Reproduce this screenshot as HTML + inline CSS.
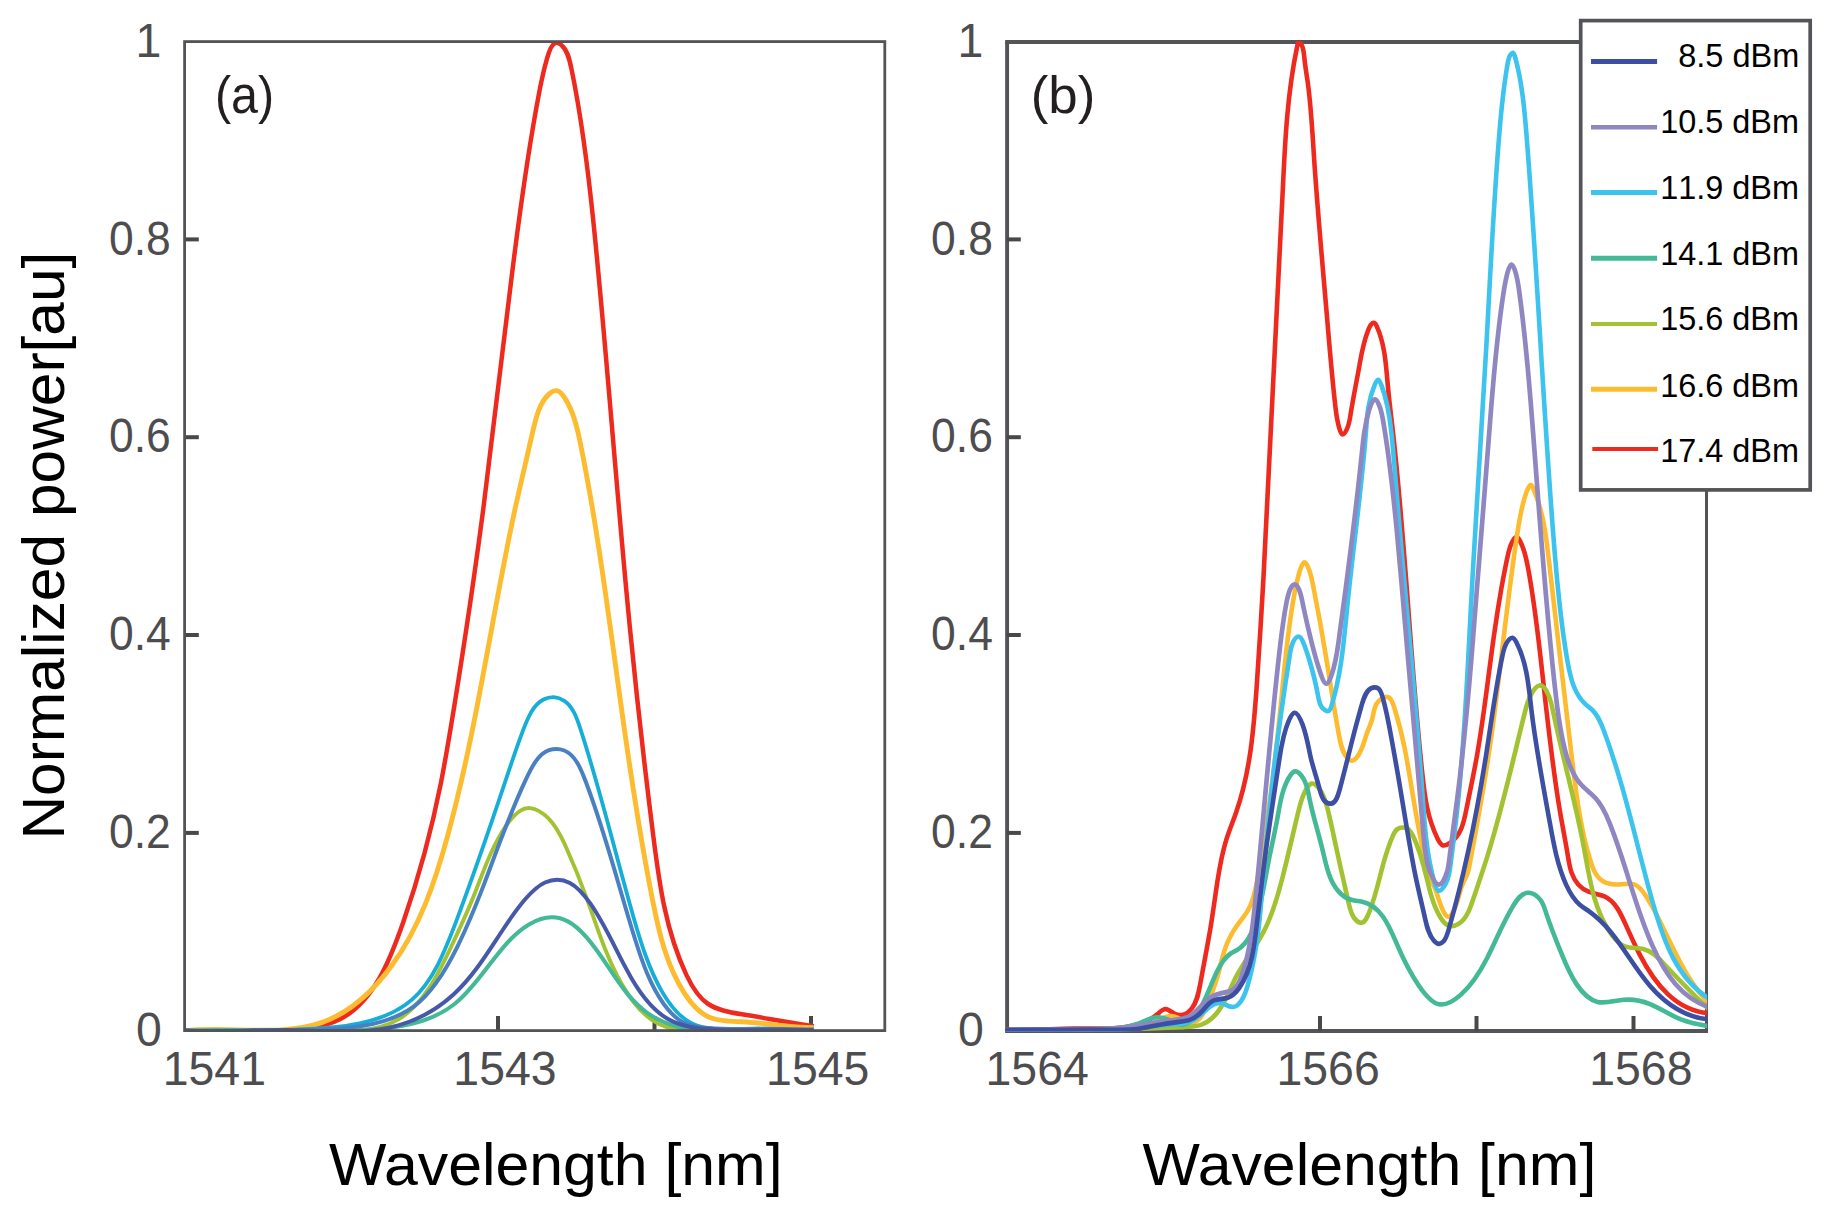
<!DOCTYPE html>
<html lang="en"><head><meta charset="utf-8"><title>Normalized power vs wavelength</title>
<style>
html,body{margin:0;padding:0;background:#fff}
svg{display:block}
text{font-family:"Liberation Sans",sans-serif}
.t{fill:#4d4d4f;font-size:47.9px}
.l{fill:#000;font-size:60px}
.g{fill:#000;font-size:33.6px;font-kerning:none}
.p{fill:#231f20;font-size:51px}
.c{fill:none;stroke-linejoin:round;stroke-linecap:butt}
</style></head>
<body>
<svg width="1830" height="1214" viewBox="0 0 1830 1214">
<rect width="1830" height="1214" fill="#fff"/>
<defs><clipPath id="ca"><rect x="184.6" y="41.6" width="700.2" height="989.0"/></clipPath><clipPath id="cb"><rect x="1005.9" y="41.1" width="701.3" height="990.4"/></clipPath></defs>
<!-- panel a: ticks, curves, then frame on top -->
<g stroke="#48484b" fill="none" stroke-width="4"><path d="M184.6 239.4H198.8"/><path d="M184.6 437.2H198.8"/><path d="M184.6 635.0H198.8"/><path d="M184.6 832.9H198.8"/><path d="M498.0 1030.6V1016"/><path d="M654.5 1030.6V1016"/><path d="M811.0 1030.6V1016"/></g>
<g class="c" clip-path="url(#ca)">
<path d="M184.2 1030.9C212.7 1029.3 237.0 1030.6 264.1 1030.9C290.0 1031.1 318.3 1030.3 339.8 1019.3C373.1 1002.3 389.8 960.9 403.3 921.9C419.9 874.2 431.5 830.3 440.9 783.1C445.7 758.6 449.9 733.1 454.0 707.9C464.9 640.4 474.8 574.0 483.5 507.3C493.8 428.6 502.5 349.3 512.5 269.9C520.1 209.2 528.4 148.5 539.7 89.9C541.6 80.1 543.6 70.3 547.0 58.6C549.1 51.1 551.9 42.8 556.4 42.7C558.0 42.6 559.8 43.6 561.3 44.9C567.4 49.9 569.5 59.2 571.4 68.6C582.7 122.7 588.7 175.1 594.0 227.8C607.4 360.5 616.8 495.2 630.0 628.7C636.8 697.7 644.5 766.3 653.2 835.3C659.2 883.1 665.6 931.0 686.5 975.1C691.9 986.5 698.2 997.5 708.2 1004.0C717.6 1010.2 730.2 1012.3 742.1 1014.3C766.8 1018.4 788.4 1022.3 813.7 1026.3" stroke="#ee2a1f" stroke-width="4.5"/>
<path d="M185.3 1031.0C227.1 1025.5 280.5 1037.5 322.9 1022.1C350.7 1012.1 373.8 990.3 391.6 965.8C419.8 927.2 435.1 881.8 447.7 835.6C477.1 727.5 491.9 615.5 515.3 507.8C520.6 483.6 526.3 459.5 532.3 433.5C535.8 418.0 539.5 401.9 549.7 393.5C551.9 391.7 554.5 390.3 556.8 390.7C560.0 391.2 562.9 395.0 565.3 398.9C573.7 412.4 577.0 427.2 580.1 441.9C587.5 477.9 593.5 513.5 599.0 549.4C608.2 609.3 616.0 670.0 624.5 730.1C632.6 786.9 641.3 843.2 652.5 899.7C659.0 932.7 666.4 965.7 684.8 993.9C691.3 1003.9 699.2 1013.2 709.8 1017.6C719.3 1021.5 731.0 1021.3 742.0 1021.8C766.9 1023.0 788.3 1027.7 813.7 1027.7" stroke="#fdbc2f" stroke-width="4.9"/>
<path d="M183.9 1030.4C226.1 1032.5 260.6 1029.4 300.3 1030.3C334.3 1031.2 372.0 1035.0 398.8 1019.1C424.0 1004.3 439.4 972.0 452.8 943.3C460.8 926.1 468.1 910.2 474.8 893.2C483.6 871.1 491.5 847.4 505.8 826.2C512.5 816.3 520.5 807.0 530.4 808.1C536.4 808.7 543.0 813.1 548.2 818.2C556.2 826.1 560.8 835.7 565.2 845.3C573.3 863.2 580.6 881.3 587.1 899.4C597.2 927.3 605.5 955.1 620.7 982.2C630.1 999.2 642.3 1015.8 658.4 1023.8C674.8 1032.0 695.4 1031.1 715.1 1030.7C748.7 1030.1 779.8 1031.1 813.7 1030.6" stroke="#a2c232" stroke-width="3.9"/>
<path d="M184.3 1031.4C243.8 1028.2 300.7 1033.3 359.9 1030.4C394.2 1028.7 429.3 1024.3 455.2 1003.5C482.5 981.6 499.6 941.6 529.4 924.2C536.4 920.2 544.1 917.4 551.6 917.3C557.2 917.2 562.7 918.7 567.9 921.4C574.7 925.0 580.8 930.8 586.4 937.2C608.2 962.0 621.7 994.7 647.2 1012.9C659.4 1021.5 674.2 1026.8 689.3 1029.1C704.4 1031.3 719.7 1030.5 734.9 1030.2C761.2 1029.7 787.0 1030.6 813.5 1030.7" stroke="#43b996" stroke-width="4.1"/>
<path d="M183.9 1030.6C224.1 1030.3 257.8 1030.8 295.5 1029.6C336.9 1028.3 383.1 1024.9 412.0 999.6C433.0 981.3 444.8 951.4 455.7 922.7C473.8 874.6 489.2 829.7 504.7 783.2C510.5 765.8 516.3 748.1 523.3 729.6C528.0 717.4 533.2 704.8 543.5 699.5C546.7 697.9 550.3 697.0 553.8 697.1C557.6 697.3 561.3 698.8 564.3 700.8C573.0 706.7 576.8 717.9 580.4 728.9C601.3 793.4 615.5 854.4 633.5 917.2C640.8 942.5 648.6 968.1 661.7 991.1C669.6 1004.8 679.2 1017.5 692.6 1023.8C711.1 1032.5 736.6 1028.6 758.3 1028.5C777.1 1028.4 793.0 1031.1 813.8 1029.3" stroke="#14aed6" stroke-width="3.8"/>
<path d="M183.9 1030.6C224.4 1031.5 258.1 1030.5 296.0 1029.9C337.0 1029.3 382.9 1029.3 413.9 1006.4C433.1 992.1 446.5 969.0 457.8 945.8C467.9 925.3 476.2 904.6 484.1 884.1C497.3 849.4 509.0 815.1 526.4 778.4C532.1 766.3 538.5 753.9 549.0 750.2C553.9 748.6 559.6 748.7 564.3 750.5C575.2 754.9 580.8 768.5 585.8 781.8C606.8 837.2 618.6 887.1 635.3 940.0C642.3 962.3 650.2 985.1 663.7 1004.0C668.9 1011.2 674.9 1017.9 682.4 1021.9C690.1 1026.0 699.3 1027.4 708.5 1028.1C726.3 1029.7 743.7 1029.0 761.1 1029.0C778.5 1029.1 796.0 1029.9 813.5 1029.5" stroke="#4a80c2" stroke-width="4.0"/>
<path d="M184.3 1030.3C218.8 1033.1 251.0 1029.6 284.5 1029.9C322.9 1030.4 363.0 1035.9 399.2 1025.2C419.2 1019.4 438.0 1008.6 453.5 994.5C473.4 976.3 487.7 952.6 502.7 930.0C509.8 919.2 517.0 908.7 525.6 898.8C531.4 892.2 537.8 885.8 545.0 882.5C553.1 878.8 562.1 878.8 569.9 882.9C577.7 886.9 584.3 895.0 590.1 903.2C607.1 927.4 616.5 952.8 631.3 977.9C640.6 993.9 652.1 1009.6 667.1 1018.4C682.4 1027.4 701.3 1029.1 719.9 1029.7C751.5 1030.7 782.1 1028.4 813.5 1030.3" stroke="#4658a8" stroke-width="4.0"/>
</g>
<rect x="184.6" y="41.6" width="700.2" height="989.0" fill="none" stroke="#535457" stroke-width="2.8"/>
<!-- panel b axes -->
<g stroke="#535457" fill="none">
<path d="M1005.15 42.1H1708.0" stroke-width="4"/><path d="M1007.1 42.1V1030.9" stroke-width="3.9"/><path d="M1005.15 1030.9H1708.0" stroke-width="4"/><path d="M1706.5 42.1V1030.9" stroke-width="3"/>
<path d="M1007.1 239.4H1020.8" stroke="#48484b" stroke-width="4"/><path d="M1007.1 437.2H1020.8" stroke="#48484b" stroke-width="4"/><path d="M1007.1 635.0H1020.8" stroke="#48484b" stroke-width="4"/><path d="M1007.1 832.9H1020.8" stroke="#48484b" stroke-width="4"/><path d="M1320.0 1030.9V1016" stroke="#48484b" stroke-width="4"/><path d="M1476.5 1030.9V1016" stroke="#48484b" stroke-width="4"/><path d="M1633.5 1030.9V1016" stroke="#48484b" stroke-width="4"/>
</g>
<g class="c" clip-path="url(#cb)">
<path d="M1005.9 1029.6C1028.9 1031.1 1050.6 1028.8 1073.2 1028.6C1094.9 1028.4 1117.4 1030.1 1137.4 1024.5C1144.7 1022.5 1151.6 1019.5 1158.0 1013.8C1160.5 1011.5 1162.8 1008.9 1165.6 1009.0C1168.3 1009.2 1171.4 1012.1 1174.3 1013.6C1181.3 1017.2 1187.7 1013.6 1191.8 1008.4C1197.0 1002.0 1198.6 993.0 1200.2 984.2C1203.8 964.3 1207.5 945.8 1210.7 926.6C1213.1 911.5 1215.2 896.1 1217.5 880.9C1219.7 867.1 1222.0 853.4 1226.2 840.1C1229.1 830.7 1233.0 821.5 1236.2 812.2C1250.3 771.7 1253.7 729.0 1256.7 686.4C1259.1 651.2 1261.3 616.2 1263.3 581.0C1270.9 450.2 1276.6 318.8 1282.9 187.3C1285.1 140.3 1287.4 93.3 1297.0 47.2C1297.6 44.0 1298.3 40.9 1300.1 42.9C1300.7 43.5 1301.4 44.7 1302.0 45.9C1303.6 49.5 1303.9 53.1 1304.2 56.5C1305.1 65.9 1306.6 74.2 1307.8 82.7C1310.9 105.2 1312.2 128.9 1313.7 152.4C1317.1 205.4 1321.9 257.2 1326.4 309.9C1329.2 342.7 1331.8 375.8 1335.5 407.6C1336.2 413.9 1337.0 420.1 1339.1 427.6C1340.0 430.9 1341.2 434.4 1342.7 434.4C1344.1 434.4 1345.7 431.7 1346.9 429.1C1349.2 424.1 1349.8 419.6 1350.5 414.9C1353.0 398.9 1356.5 381.7 1359.4 365.8C1361.4 354.3 1363.0 343.5 1368.1 330.3C1369.2 327.5 1370.5 324.5 1372.2 323.3C1372.9 322.8 1373.7 322.6 1374.4 322.9C1375.4 323.3 1376.1 324.7 1376.7 326.1C1384.9 344.2 1386.0 364.9 1387.8 385.2C1389.2 401.1 1391.2 416.7 1393.0 432.4C1399.5 490.4 1403.8 548.9 1408.2 607.4C1412.3 662.9 1416.5 718.5 1422.3 773.6C1424.6 795.5 1427.1 817.4 1437.7 838.9C1439.2 841.9 1440.8 844.8 1443.2 845.4C1445.2 845.8 1447.8 844.5 1450.0 843.0C1461.3 835.4 1463.9 821.8 1466.5 808.7C1470.2 790.7 1473.8 773.5 1476.9 756.1C1484.2 715.3 1488.5 673.1 1494.5 631.8C1496.6 617.2 1498.9 602.7 1501.4 588.2C1503.5 576.5 1505.7 564.7 1508.3 553.2C1509.2 549.6 1510.0 546.1 1512.0 542.3C1513.3 539.7 1515.1 537.0 1516.6 537.1C1517.9 537.1 1519.0 539.0 1520.0 540.9C1524.4 549.2 1526.2 558.2 1527.9 567.1C1534.8 603.7 1538.8 640.5 1542.8 677.4C1547.7 722.4 1552.5 767.6 1560.1 812.1C1562.7 827.3 1565.7 842.4 1568.2 857.7C1569.0 862.7 1569.8 867.8 1571.5 872.5C1574.4 881.0 1580.2 888.4 1588.6 891.7C1593.6 893.7 1599.5 894.3 1604.4 896.4C1615.1 901.1 1620.7 913.5 1625.8 924.9C1630.3 935.0 1634.4 944.2 1639.2 953.6C1654.2 982.9 1676.5 1013.1 1713.4 1013.4" stroke="#ee2a1f" stroke-width="4.6"/>
<path d="M1006.0 1030.1C1046.0 1029.1 1086.7 1031.2 1126.6 1028.6C1135.3 1028.1 1144.0 1027.3 1152.2 1023.6C1159.6 1020.3 1166.6 1014.6 1174.1 1016.5C1179.3 1017.8 1184.9 1022.8 1190.3 1022.9C1192.8 1023.0 1195.3 1022.0 1197.4 1020.6C1202.9 1016.9 1205.4 1009.9 1207.9 1003.3C1211.4 993.7 1215.1 985.0 1217.8 975.6C1220.1 967.5 1221.8 958.9 1224.4 950.8C1226.9 942.9 1230.3 935.5 1234.9 928.7C1239.1 922.4 1244.3 916.7 1248.1 910.2C1253.6 900.5 1255.7 889.2 1257.8 877.8C1268.8 816.6 1275.9 756.4 1281.8 695.1C1285.4 658.0 1288.5 620.6 1296.2 584.9C1297.2 580.3 1298.3 575.7 1300.0 570.2C1301.2 566.5 1302.8 562.3 1304.4 562.3C1306.1 562.3 1308.0 566.5 1309.3 570.3C1311.2 575.8 1312.1 580.3 1313.0 584.9C1317.9 609.7 1322.7 636.3 1326.9 662.1C1330.9 686.5 1334.3 710.1 1339.0 735.4C1340.6 744.3 1342.4 753.4 1348.5 759.0C1349.6 760.0 1350.8 760.9 1352.1 760.8C1353.5 760.8 1354.9 759.5 1356.2 758.1C1362.4 751.2 1363.9 741.6 1366.9 733.2C1368.8 728.0 1371.2 723.3 1372.5 717.9C1373.7 713.0 1373.9 707.6 1376.9 703.2C1379.4 699.6 1383.7 696.6 1386.7 696.8C1390.8 697.0 1392.8 702.7 1394.5 708.3C1403.8 737.9 1407.8 764.4 1412.4 792.6C1416.7 819.0 1421.7 846.7 1427.8 871.1C1428.2 872.3 1428.5 873.6 1428.9 874.8C1430.5 879.7 1433.3 884.3 1435.4 889.4C1438.8 897.6 1440.2 907.4 1445.2 914.3C1446.2 915.7 1447.3 916.9 1448.3 917.0C1449.8 917.1 1451.3 915.0 1452.5 912.9C1458.3 903.2 1459.0 891.9 1463.2 882.7C1464.8 879.1 1467.0 875.9 1468.0 872.0C1468.3 870.9 1468.5 869.8 1468.8 868.7C1477.0 825.8 1484.8 782.4 1491.0 738.8C1501.1 667.6 1507.3 595.8 1518.6 525.4C1520.4 514.3 1522.3 503.2 1526.8 491.3C1528.1 488.0 1529.5 484.7 1530.9 484.9C1531.9 485.1 1533.0 487.5 1533.9 489.8C1543.3 512.5 1546.0 535.4 1548.7 558.4C1556.7 627.0 1564.4 696.4 1572.7 765.0C1576.6 796.6 1580.5 828.1 1590.0 859.5C1592.7 868.4 1595.8 877.2 1603.3 881.4C1608.0 884.0 1614.5 884.7 1620.5 884.4C1625.5 884.1 1630.3 883.0 1634.3 884.4C1639.2 886.1 1643.1 891.5 1646.4 896.8C1651.4 904.5 1655.3 911.8 1659.0 919.4C1674.2 949.7 1687.3 983.7 1712.9 1007.1" stroke="#fdbc2f" stroke-width="4.6"/>
<path d="M1006.0 1030.7C1034.3 1029.3 1062.9 1031.0 1091.3 1030.8C1122.2 1030.5 1152.7 1028.0 1183.7 1027.1C1189.6 1026.9 1195.5 1026.8 1200.9 1024.9C1206.3 1023.0 1211.3 1019.3 1215.3 1014.9C1224.8 1004.7 1229.0 991.0 1235.2 978.5C1243.5 962.1 1255.3 947.7 1263.7 931.6C1272.6 914.7 1277.8 896.0 1282.5 877.5C1287.9 856.3 1292.6 835.5 1297.8 813.7C1299.9 804.5 1302.2 795.2 1307.2 787.6C1308.5 785.7 1309.9 784.0 1311.6 783.6C1314.1 783.1 1317.2 786.0 1319.5 789.1C1323.7 794.8 1325.5 801.1 1327.2 807.4C1330.5 820.3 1333.2 833.3 1335.9 846.1C1340.0 865.3 1344.4 884.2 1348.9 904.1C1350.0 908.8 1351.1 913.6 1353.9 917.6C1355.7 920.1 1358.2 922.3 1360.4 922.7C1364.8 923.5 1367.6 916.7 1370.0 910.3C1376.2 893.4 1379.1 879.2 1383.2 864.1C1385.7 855.1 1388.5 845.9 1392.4 836.8C1393.6 833.9 1394.9 831.1 1397.0 829.4C1400.2 826.8 1405.3 826.8 1408.6 829.4C1410.4 830.9 1411.6 833.1 1412.8 835.4C1422.1 854.1 1425.4 874.3 1430.6 893.4C1432.8 901.4 1435.4 909.2 1440.3 917.2C1442.3 920.4 1444.7 923.6 1447.5 925.1C1451.2 927.0 1455.7 925.8 1459.3 923.4C1466.8 918.4 1470.1 908.3 1473.4 898.6C1478.0 884.9 1482.4 872.0 1486.5 859.1C1501.6 811.5 1512.6 761.7 1524.9 712.1C1526.9 703.9 1529.0 695.7 1534.4 689.2C1535.8 687.5 1537.5 685.8 1539.2 685.5C1543.1 684.6 1546.7 690.7 1549.0 696.3C1551.1 701.5 1552.1 706.2 1553.0 711.0C1562.4 756.5 1575.2 800.8 1583.8 847.0C1589.5 877.6 1593.3 909.2 1611.4 934.5C1615.0 939.5 1619.2 944.3 1624.9 946.3C1630.5 948.3 1637.5 947.6 1643.3 949.0C1651.9 951.0 1658.0 957.6 1664.1 964.0C1680.1 981.0 1695.7 997.3 1713.0 1013.1" stroke="#a2c232" stroke-width="4.6"/>
<path d="M1006.0 1030.2C1037.5 1030.3 1068.5 1029.7 1100.0 1029.1C1112.7 1028.8 1125.5 1028.6 1137.4 1024.0C1144.2 1021.4 1150.7 1017.4 1157.4 1017.2C1161.7 1017.1 1166.1 1018.6 1170.5 1020.6C1174.2 1022.4 1178.0 1024.5 1181.4 1024.8C1189.7 1025.5 1196.3 1015.9 1201.2 1006.8C1208.1 994.0 1211.5 982.5 1217.5 970.4C1220.7 964.1 1224.7 957.5 1230.7 953.5C1232.9 952.1 1235.4 951.0 1237.6 949.6C1248.6 942.9 1253.3 930.4 1256.8 917.8C1262.3 898.4 1265.1 878.9 1268.8 860.0C1271.5 846.5 1274.6 833.3 1277.2 819.3C1280.0 803.7 1282.2 787.0 1290.7 774.9C1291.8 773.3 1293.0 771.9 1294.3 771.5C1297.2 770.6 1300.8 774.4 1303.3 778.4C1307.0 784.5 1308.0 791.0 1309.2 797.2C1312.8 815.6 1318.3 832.2 1322.6 850.3C1326.1 864.4 1328.8 879.5 1337.6 890.3C1341.3 894.9 1346.1 898.7 1352.1 900.1C1355.1 900.8 1358.3 900.9 1361.3 901.4C1381.3 905.0 1389.8 927.6 1397.8 946.2C1403.8 960.3 1409.6 972.0 1418.7 985.5C1424.5 994.0 1431.6 1003.3 1439.7 1004.4C1446.6 1005.4 1454.4 1000.4 1460.9 994.6C1472.8 984.0 1480.6 970.9 1487.3 957.7C1495.6 941.2 1502.2 924.6 1512.4 907.2C1516.8 899.7 1521.8 892.2 1528.8 892.8C1532.8 893.2 1537.5 896.2 1540.4 899.9C1542.9 903.1 1544.1 906.8 1545.3 910.6C1549.9 924.8 1555.5 939.0 1561.1 952.7C1565.4 963.5 1569.7 974.0 1576.5 984.1C1581.9 992.1 1589.0 999.9 1597.5 1001.9C1605.6 1003.8 1615.1 1000.5 1624.0 999.8C1633.1 999.0 1641.7 1000.7 1650.0 1004.1C1660.6 1008.4 1670.7 1015.4 1681.5 1019.7C1691.6 1023.6 1702.3 1025.2 1713.0 1027.0" stroke="#43b996" stroke-width="4.6"/>
<path d="M1006.1 1030.6C1047.6 1027.9 1090.5 1032.7 1131.9 1028.8C1144.5 1027.6 1157.0 1025.5 1170.1 1024.6C1177.8 1024.1 1185.6 1024.0 1192.0 1020.9C1198.9 1017.6 1204.2 1010.9 1210.8 1006.2C1213.8 1004.1 1217.2 1002.4 1220.9 1003.1C1225.1 1003.8 1229.7 1007.5 1233.6 1007.0C1235.3 1006.8 1236.8 1005.8 1238.1 1004.6C1243.2 1000.0 1245.5 993.1 1247.5 986.1C1257.9 950.3 1260.3 913.9 1263.2 877.5C1266.2 840.0 1269.9 802.5 1274.4 764.9C1278.9 727.4 1284.3 689.8 1290.1 653.0C1290.7 649.4 1291.2 645.8 1293.2 641.9C1294.6 639.2 1296.7 636.4 1298.5 636.5C1300.4 636.5 1302.0 639.5 1303.2 642.3C1304.9 646.1 1305.9 649.4 1307.0 652.8C1308.0 655.8 1309.0 658.9 1309.9 662.0C1313.6 674.1 1316.3 686.1 1318.6 698.6C1319.3 702.0 1319.9 705.4 1322.6 708.2C1324.1 709.7 1326.2 711.1 1327.7 711.1C1329.8 711.1 1330.7 708.5 1331.5 705.8C1341.5 673.1 1343.9 640.3 1347.2 607.4C1352.9 549.2 1361.5 490.5 1365.9 432.4C1367.0 416.6 1367.9 400.7 1374.8 384.6C1375.9 382.2 1377.0 379.7 1378.2 379.7C1379.3 379.8 1380.3 382.2 1381.2 384.6C1387.8 401.4 1389.9 417.7 1391.6 434.2C1393.3 451.0 1394.6 467.9 1396.0 484.9C1404.6 589.8 1415.5 695.3 1422.9 799.7C1424.8 826.8 1426.5 853.8 1434.2 881.8C1435.4 886.3 1436.8 890.8 1439.0 890.8C1441.7 890.9 1445.5 884.9 1447.5 879.6C1449.0 875.7 1449.5 872.1 1450.0 868.5C1453.0 846.0 1455.9 823.0 1458.2 800.0C1464.9 735.9 1467.5 671.6 1470.9 607.4C1475.5 519.9 1481.5 432.5 1486.4 344.9C1490.3 274.9 1493.5 204.7 1499.2 135.1C1501.1 111.7 1503.3 88.4 1507.5 64.4C1508.1 60.6 1508.8 56.8 1510.9 54.3C1511.6 53.3 1512.6 52.6 1513.2 52.8C1514.0 53.1 1514.4 54.6 1514.9 56.2C1522.1 82.6 1524.4 108.8 1526.5 135.0C1537.7 274.6 1543.4 415.1 1554.9 555.0C1557.9 590.7 1561.2 626.4 1567.6 661.8C1569.1 670.1 1570.8 678.4 1573.8 686.3C1576.4 692.8 1579.9 699.1 1585.1 703.9C1587.6 706.2 1590.4 708.1 1592.8 710.5C1598.1 715.7 1600.9 722.8 1603.6 730.0C1624.7 786.6 1636.2 843.8 1652.6 902.0C1663.5 940.7 1676.5 979.9 1712.9 1001.1" stroke="#3cc4ef" stroke-width="4.6"/>
<path d="M1006.1 1030.5C1043.5 1027.1 1082.6 1032.4 1119.9 1028.2C1136.8 1026.3 1153.3 1022.5 1170.7 1020.4C1177.0 1019.7 1183.4 1019.1 1188.8 1016.5C1197.6 1012.0 1203.4 1001.7 1211.7 996.7C1215.2 994.6 1219.1 993.5 1223.6 992.6C1226.1 992.1 1228.8 991.7 1231.0 990.8C1237.1 988.3 1239.6 982.0 1241.8 975.6C1250.2 950.3 1253.0 924.4 1255.6 898.5C1263.8 816.2 1270.1 733.2 1279.5 651.2C1281.4 634.8 1283.3 618.6 1286.6 601.9C1287.5 597.6 1288.4 593.2 1290.2 589.3C1291.4 586.7 1293.0 584.3 1294.5 584.3C1296.1 584.2 1297.7 586.6 1298.9 589.2C1300.7 593.1 1301.5 597.5 1302.4 601.9C1304.6 612.9 1307.1 623.8 1309.5 633.8C1312.3 645.8 1315.0 656.6 1319.9 671.5C1321.9 677.5 1324.3 684.1 1326.7 683.7C1328.5 683.4 1330.3 678.9 1331.7 674.6C1335.7 663.0 1337.1 652.7 1338.5 642.3C1341.7 619.5 1344.8 595.8 1347.8 572.3C1353.1 531.4 1358.0 491.1 1362.2 449.9C1362.8 444.6 1363.3 439.2 1364.0 434.1C1364.8 429.0 1365.8 424.1 1366.9 418.6C1367.9 414.3 1369.0 409.6 1370.7 405.3C1371.9 402.2 1373.4 399.3 1375.0 399.4C1376.5 399.5 1378.1 402.6 1379.3 405.6C1381.3 410.4 1382.1 415.2 1383.0 420.0C1389.2 456.2 1393.1 492.4 1396.6 528.6C1400.8 573.0 1404.5 617.5 1408.3 661.9C1413.3 719.6 1418.8 777.0 1423.5 835.0C1424.5 847.5 1425.5 860.0 1429.5 870.6C1429.9 871.6 1430.3 872.5 1430.7 873.6C1432.7 878.3 1435.7 884.5 1438.8 884.6C1442.2 884.7 1445.6 877.1 1447.4 870.7C1448.4 866.7 1448.8 863.2 1449.3 859.6C1451.6 840.1 1454.5 820.0 1457.1 799.9C1463.1 753.3 1467.4 706.7 1471.3 660.0C1478.2 578.4 1484.1 496.6 1490.6 414.9C1493.9 372.8 1497.4 330.6 1504.1 289.1C1505.0 283.9 1505.9 278.6 1507.5 272.6C1508.6 268.7 1510.0 264.5 1511.5 264.5C1513.0 264.6 1514.5 268.7 1515.6 272.6C1517.4 278.6 1518.1 283.8 1518.9 289.1C1524.7 330.6 1528.4 372.7 1531.7 414.8C1539.2 509.6 1545.1 604.1 1556.2 698.5C1558.7 719.8 1561.4 741.0 1568.3 761.3C1571.1 769.2 1574.4 777.0 1579.9 783.3C1584.6 788.7 1590.8 792.9 1595.6 798.3C1601.9 805.1 1605.8 813.7 1609.3 822.4C1625.9 863.1 1634.4 905.4 1652.3 945.4C1664.7 973.3 1681.7 1000.1 1713.3 1008.6" stroke="#8f87c1" stroke-width="4.7"/>
<path d="M1006.0 1029.7C1041.5 1030.3 1076.8 1029.0 1112.4 1029.7C1120.6 1029.8 1128.9 1030.0 1137.0 1029.1C1143.9 1028.2 1150.6 1026.5 1157.4 1025.2C1166.1 1023.5 1175.0 1022.4 1183.6 1021.2C1185.3 1021.0 1187.0 1020.7 1188.6 1020.3C1193.7 1018.9 1198.1 1015.6 1201.9 1011.4C1205.7 1007.3 1208.9 1002.4 1213.8 1000.4C1218.0 998.7 1223.4 999.1 1227.8 997.7C1233.1 996.0 1236.7 991.7 1239.8 987.1C1251.7 969.2 1254.3 946.6 1256.8 924.6C1259.4 902.7 1261.8 881.5 1264.6 860.1C1269.0 826.7 1274.4 792.7 1279.3 759.6C1281.2 746.7 1283.0 734.0 1288.7 720.8C1290.4 716.9 1292.5 713.0 1294.5 712.7C1297.3 712.3 1300.2 718.5 1302.4 724.2C1307.1 736.8 1308.3 747.2 1310.8 757.9C1313.2 768.0 1316.8 778.3 1319.8 789.8C1320.9 793.8 1321.9 797.9 1324.3 800.6C1326.2 802.7 1329.0 803.9 1331.2 803.6C1336.0 803.0 1338.1 795.4 1340.0 788.3C1345.1 769.3 1348.8 753.6 1353.0 737.2C1355.6 727.0 1358.5 716.6 1361.7 705.1C1363.7 698.3 1365.8 691.0 1370.9 688.4C1373.2 687.2 1376.1 687.0 1378.2 688.4C1380.6 690.1 1381.8 694.0 1382.8 697.8C1386.9 712.6 1389.2 725.5 1391.5 738.7C1394.5 755.3 1397.6 772.3 1400.4 789.3C1405.4 818.9 1409.8 848.6 1415.8 877.5C1418.6 890.8 1421.8 903.9 1424.9 917.7C1426.7 926.0 1428.5 934.5 1433.8 940.5C1435.3 942.3 1437.2 943.8 1439.0 943.9C1440.6 944.0 1442.3 942.8 1443.6 941.3C1446.0 938.5 1447.2 934.5 1448.4 930.6C1465.6 870.5 1477.4 811.4 1486.7 751.1C1491.7 719.0 1495.9 686.5 1502.7 654.5C1503.5 650.8 1504.3 647.1 1506.4 643.4C1508.0 640.5 1510.5 637.6 1512.4 637.7C1514.0 637.9 1515.3 640.1 1516.4 642.3C1526.9 663.0 1528.7 686.1 1531.3 708.9C1535.8 747.3 1543.0 784.8 1549.8 822.5C1553.6 843.7 1557.3 864.9 1566.1 884.6C1569.5 892.1 1573.6 899.4 1579.8 904.7C1582.7 907.1 1586.0 909.2 1589.1 911.4C1616.0 930.4 1628.9 961.6 1650.1 985.9C1666.2 1004.4 1687.1 1018.9 1713.3 1019.6" stroke="#3c4fa2" stroke-width="4.6"/>
</g>
<!-- legend -->
<rect x="1580.7" y="20.6" width="229.5" height="469.3" fill="#fff" stroke="#535457" stroke-width="3.7"/>
<path d="M1591.0 61.5H1657.1" stroke="#3c4fa2" stroke-width="5.0"/><text class="g" transform="translate(1678.2 66.9) scale(0.967 1)">8.5 dBm</text>
<path d="M1591.0 127.2H1657.1" stroke="#8f87c1" stroke-width="4.4"/><text class="g" transform="translate(1660.2 132.8) scale(0.965 1)">10.5 dBm</text>
<path d="M1591.0 192.4H1657.1" stroke="#3cc4ef" stroke-width="5.0"/><text class="g" transform="translate(1660.2 198.6) scale(0.965 1)">11.9 dBm</text>
<path d="M1591.0 258.3H1657.1" stroke="#43b996" stroke-width="5.0"/><text class="g" transform="translate(1660.2 264.8) scale(0.965 1)">14.1 dBm</text>
<path d="M1591.0 324.0H1657.1" stroke="#a2c232" stroke-width="4.2"/><text class="g" transform="translate(1660.2 329.6) scale(0.965 1)">15.6 dBm</text>
<path d="M1591.0 389.3H1657.1" stroke="#fdbc2f" stroke-width="5.0"/><text class="g" transform="translate(1660.2 397.2) scale(0.965 1)">16.6 dBm</text>
<path d="M1592.3 448.9H1658.1" stroke="#ee2a1f" stroke-width="4.0"/><text class="g" transform="translate(1660.2 461.8) scale(0.965 1)">17.4 dBm</text>
<!-- tick labels -->
<text class="t" transform="translate(135.5 57.0) scale(0.97 1)">1</text>
<text class="t" transform="translate(109.0 254.5) scale(0.928 1)">0.8</text>
<text class="t" transform="translate(109.0 452.4) scale(0.928 1)">0.6</text>
<text class="t" transform="translate(109.0 650.3) scale(0.928 1)">0.4</text>
<text class="t" transform="translate(109.0 848.2) scale(0.928 1)">0.2</text>
<text class="t" transform="translate(136.0 1045.5) scale(0.97 1)">0</text>
<text class="t" transform="translate(957.6 57.0) scale(0.97 1)">1</text>
<text class="t" transform="translate(931.1 254.5) scale(0.928 1)">0.8</text>
<text class="t" transform="translate(931.1 452.4) scale(0.928 1)">0.6</text>
<text class="t" transform="translate(931.1 650.3) scale(0.928 1)">0.4</text>
<text class="t" transform="translate(931.1 848.2) scale(0.928 1)">0.2</text>
<text class="t" transform="translate(958.1 1045.5) scale(0.97 1)">0</text>
<text class="t" transform="translate(162.7 1085.0) scale(0.97 1)">1541</text>
<text class="t" transform="translate(453.3 1085.0) scale(0.97 1)">1543</text>
<text class="t" transform="translate(766.1 1085.0) scale(0.97 1)">1545</text>
<text class="t" transform="translate(985.5 1085.0) scale(0.97 1)">1564</text>
<text class="t" transform="translate(1276.4 1085.0) scale(0.97 1)">1566</text>
<text class="t" transform="translate(1589.2 1085.0) scale(0.97 1)">1568</text>
<!-- axis labels -->
<text class="l" transform="translate(328.9 1184.7) scale(1.013 1)">Wavelength [nm]</text>
<text class="l" transform="translate(1142.6 1184.7) scale(1.013 1)">Wavelength [nm]</text>
<text class="l" transform="translate(64.1 839.6) rotate(-90) scale(1.0077 1)">Normalized power[au]</text>
<text class="p" transform="translate(214.9 113.0) scale(0.95 1)">(a)</text>
<text class="p" transform="translate(1030.7 113.0) scale(1.037 1)">(b)</text>
</svg>
</body></html>
